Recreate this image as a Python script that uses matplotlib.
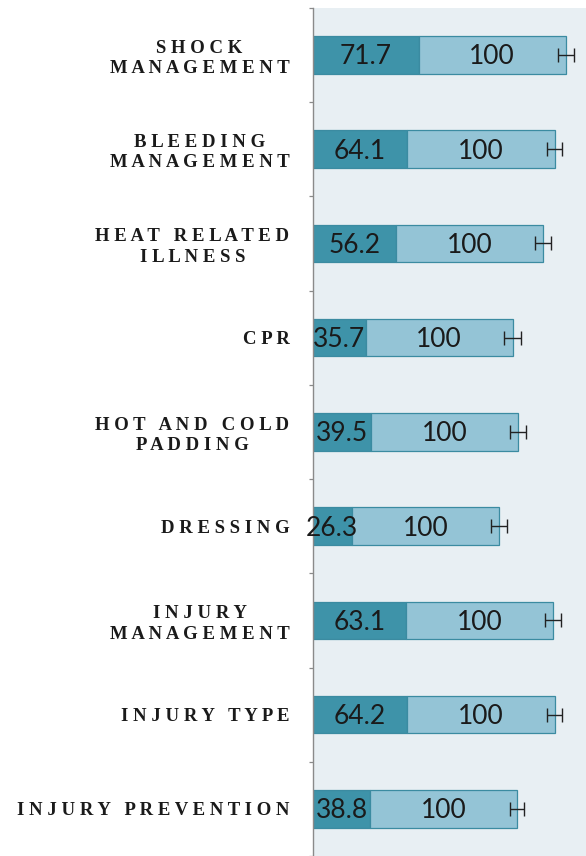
#!/usr/bin/env python3
import matplotlib

matplotlib.use("Agg")
import matplotlib.pyplot as plt
import numpy as np

# categories listed top to bottom, as in the picture
categories = [
    "SHOCK\nMANAGEMENT",
    "BLEEDING\nMANAGEMENT",
    "HEAT RELATED\nILLNESS",
    "CPR",
    "HOT AND COLD\nPADDING",
    "DRESSING",
    "INJURY\nMANAGEMENT",
    "INJURY TYPE",
    "INJURY PREVENTION",
]
scores = [71.7, 64.1, 56.2, 35.7, 39.5, 26.3, 63.1, 64.2, 38.8]
reference = [100, 100, 100, 100, 100, 100, 100, 100, 100]
errors = [5.4, 5.2, 5.2, 5.8, 5.4, 5.4, 5.4, 5.2, 4.8]

DARK = "#3e93a9"
LIGHT = "#94c4d6"
EDGE = "#3b8ba1"
BG = "#e8eff3"


def spaced(label: str) -> str:
    # wide letter tracking like the original labels
    lines = []
    for line in label.split("\n"):
        words = [" ".join(word) for word in line.split(" ")]
        lines.append("   ".join(words))
    return "\n".join(lines)


def main() -> None:
    fig = plt.figure(figsize=(5.86, 8.56), dpi=100)
    left, right = 313 / 586, 1.0
    top, bottom = 1 - 7.75 / 856, 0.0
    ax = fig.add_axes([left, bottom, right - left, top - bottom])
    ax.set_facecolor(BG)

    n = len(categories)
    y = np.arange(n)[::-1]
    height = 0.4

    ax.barh(y, scores, height=height, color=DARK, edgecolor=EDGE, linewidth=0.9, zorder=2)
    ax.barh(y, reference, left=scores, height=height, color=LIGHT, edgecolor=EDGE,
            linewidth=0.9, zorder=2)
    totals = [s + r for s, r in zip(scores, reference)]
    ax.errorbar(totals, y, xerr=errors, fmt="none", ecolor="#222222", elinewidth=1.0,
                capsize=5, capthick=1.0, zorder=3)

    for yi, s, r in zip(y, scores, reference):
        ax.text(s / 2, yi - 0.02, f"{s:g}", ha="center", va="center", fontsize=19,
                family="Lato", color="#1a1a1a", zorder=4, clip_on=False)
        ax.text(s + r / 2, yi - 0.02, f"{r:g}", ha="center", va="center", fontsize=19,
                family="Lato", color="#1a1a1a", zorder=4)

    ax.set_xlim(0, 185.5)
    ax.set_ylim(-0.476, n - 0.5)
    ax.set_xticks([])

    ax.set_yticks(y)
    ax.set_yticklabels([spaced(c) for c in categories], family="Liberation Serif",
                       fontweight="bold", fontsize=13.5, color="#1a1a1a", linespacing=1.25)
    for lab in ax.get_yticklabels():
        lab.set_multialignment("center")
    ax.tick_params(axis="y", which="major", length=0, pad=17)
    ax.set_yticks(np.arange(n + 1) - 0.5, minor=True)
    ax.tick_params(axis="y", which="minor", length=3, width=0.9, color="#8a8a8a")

    for side in ("top", "right", "bottom"):
        ax.spines[side].set_visible(False)
    ax.spines["left"].set_color("#8a8a8a")
    ax.spines["left"].set_linewidth(1.0)

    fig.savefig("out.png", dpi=100, facecolor="white")
    plt.close(fig)


if __name__ == "__main__":
    main()
